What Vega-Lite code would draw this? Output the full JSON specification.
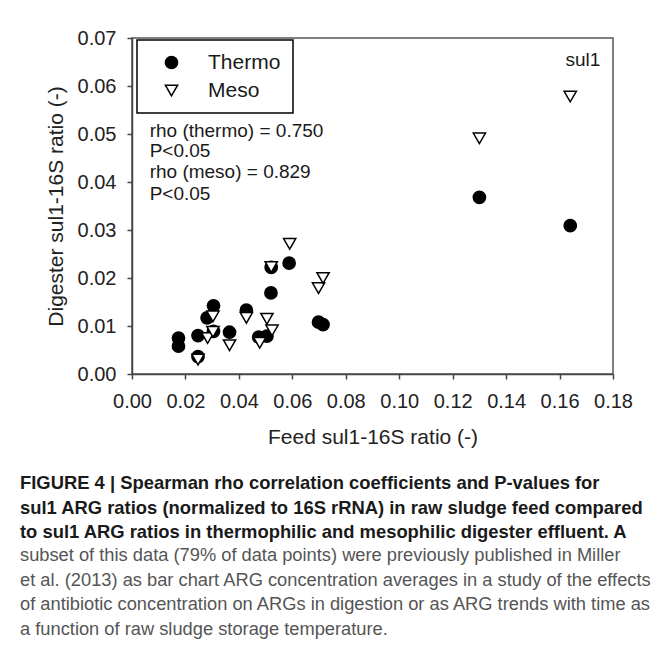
{
  "$schema": "https://vega.github.io/schema/vega-lite/v6.json",
  "autosize": {"type": "none"},
  "width": 481,
  "height": 336,
  "padding": {"left": 132, "top": 38, "right": 50, "bottom": 291},
  "background": "white",
  "title": {
    "text": [
      "FIGURE 4 | Spearman rho correlation coefficients and P-values for",
      "sul1 ARG ratios (normalized to 16S rRNA) in raw sludge feed compared",
      "to sul1 ARG ratios in thermophilic and mesophilic digester effluent. A"
    ],
    "subtitle": [
      "subset of this data (79% of data points) were previously published in Miller",
      "et al. (2013) as bar chart ARG concentration averages in a study of the effects",
      "of antibiotic concentration on ARGs in digestion or as ARG trends with time as",
      "a function of raw sludge storage temperature."
    ],
    "orient": "bottom",
    "anchor": "start",
    "frame": "group",
    "dx": -112,
    "offset": 27,
    "font": "Liberation Sans",
    "fontSize": 18.4,
    "fontWeight": "bold",
    "color": "#1a1a1a",
    "lineHeight": 24.5,
    "subtitleFont": "Liberation Sans",
    "subtitleFontSize": 18.3,
    "subtitleColor": "#555555",
    "subtitleLineHeight": 24.5,
    "subtitlePadding": 6
  },
  "config": {
    "view": {"stroke": "#555555", "strokeWidth": 1.5},
    "axis": {
      "grid": false,
      "domainColor": "#444444",
      "domainWidth": 1.5,
      "tickColor": "#444444",
      "tickWidth": 1.5,
      "tickSize": 5,
      "labelFont": "Liberation Sans",
      "labelFontSize": 20,
      "labelColor": "#222222",
      "titleFont": "Liberation Sans",
      "titleFontSize": 21,
      "titleFontWeight": "normal",
      "titleColor": "#222222"
    },
    "legend": {
      "strokeColor": "black",
      "strokeWidth": 1.5,
      "fillColor": "white",
      "symbolStrokeColor": "black",
      "symbolStrokeWidth": 1.5
    }
  },
  "layer": [
    {
      "data": {
        "values": [
          {"series": "Thermo", "feed": 0.0174, "digester": 0.0075},
          {"series": "Thermo", "feed": 0.0174, "digester": 0.0058},
          {"series": "Thermo", "feed": 0.0247, "digester": 0.0080},
          {"series": "Thermo", "feed": 0.0247, "digester": 0.0036},
          {"series": "Thermo", "feed": 0.0281, "digester": 0.0117},
          {"series": "Thermo", "feed": 0.0305, "digester": 0.0142},
          {"series": "Thermo", "feed": 0.0305, "digester": 0.0089},
          {"series": "Thermo", "feed": 0.0365, "digester": 0.0087},
          {"series": "Thermo", "feed": 0.0428, "digester": 0.0133},
          {"series": "Thermo", "feed": 0.0474, "digester": 0.0077},
          {"series": "Thermo", "feed": 0.0505, "digester": 0.0079},
          {"series": "Thermo", "feed": 0.0520, "digester": 0.0169},
          {"series": "Thermo", "feed": 0.0521, "digester": 0.0222},
          {"series": "Thermo", "feed": 0.0588, "digester": 0.0231},
          {"series": "Thermo", "feed": 0.0698, "digester": 0.0108},
          {"series": "Thermo", "feed": 0.0715, "digester": 0.0103},
          {"series": "Thermo", "feed": 0.1300, "digester": 0.0368},
          {"series": "Thermo", "feed": 0.1640, "digester": 0.0309},
          {"series": "Meso", "feed": 0.0247, "digester": 0.0030},
          {"series": "Meso", "feed": 0.0283, "digester": 0.0075},
          {"series": "Meso", "feed": 0.0303, "digester": 0.0120},
          {"series": "Meso", "feed": 0.0303, "digester": 0.0088},
          {"series": "Meso", "feed": 0.0365, "digester": 0.0060},
          {"series": "Meso", "feed": 0.0428, "digester": 0.0117},
          {"series": "Meso", "feed": 0.0478, "digester": 0.0065},
          {"series": "Meso", "feed": 0.0505, "digester": 0.0115},
          {"series": "Meso", "feed": 0.0524, "digester": 0.0091},
          {"series": "Meso", "feed": 0.0521, "digester": 0.0223},
          {"series": "Meso", "feed": 0.0590, "digester": 0.0271},
          {"series": "Meso", "feed": 0.0698, "digester": 0.0179},
          {"series": "Meso", "feed": 0.0715, "digester": 0.0200},
          {"series": "Meso", "feed": 0.1300, "digester": 0.0491},
          {"series": "Meso", "feed": 0.1640, "digester": 0.0578}
        ]
      },
      "mark": {"type": "point", "filled": true, "strokeWidth": 1.5, "size": 150, "opacity": 1},
      "encoding": {
        "x": {
          "field": "feed",
          "type": "quantitative",
          "title": "Feed sul1-16S ratio (-)",
          "scale": {"domain": [0, 0.18], "nice": false, "zero": false},
          "axis": {
            "values": [0, 0.02, 0.04, 0.06, 0.08, 0.10, 0.12, 0.14, 0.16, 0.18],
            "format": ".2f",
            "labelPadding": 12,
            "titlePadding": 15,
            "labelFlush": false
          }
        },
        "y": {
          "field": "digester",
          "type": "quantitative",
          "title": "Digester sul1-16S ratio (-)",
          "scale": {"domain": [0, 0.07], "nice": false, "zero": false},
          "axis": {
            "values": [0, 0.01, 0.02, 0.03, 0.04, 0.05, 0.06, 0.07],
            "format": ".2f",
            "labelPadding": 11,
            "titlePadding": 11,
            "labelFlush": false
          }
        },
        "fill": {
          "field": "series",
          "type": "nominal",
          "scale": {"domain": ["Thermo", "Meso"], "range": ["black", "white"]},
          "legend": {
            "title": null,
            "orient": "none",
            "legendX": 5,
            "legendY": 2,
            "padding": 12,
            "labelFont": "Liberation Sans",
            "labelFontSize": 21,
            "labelColor": "#1a1a1a",
            "symbolOffset": 12,
            "labelOffset": 26,
            "rowPadding": 6,
            "symbolSize": 150
          }
        },
        "stroke": {
          "field": "series",
          "type": "nominal",
          "scale": {"domain": ["Thermo", "Meso"], "range": ["black", "black"]},
          "legend": {
            "title": null,
            "orient": "none",
            "legendX": 5,
            "legendY": 2,
            "padding": 12,
            "labelFont": "Liberation Sans",
            "labelFontSize": 21,
            "labelColor": "#1a1a1a",
            "symbolOffset": 12,
            "labelOffset": 26,
            "rowPadding": 6,
            "symbolSize": 150
          }
        },
        "shape": {
          "field": "series",
          "type": "nominal",
          "scale": {"domain": ["Thermo", "Meso"], "range": ["circle", "triangle-down"]},
          "legend": {
            "title": null,
            "orient": "none",
            "legendX": 5,
            "legendY": 2,
            "padding": 12,
            "labelFont": "Liberation Sans",
            "labelFontSize": 21,
            "labelColor": "#1a1a1a",
            "symbolOffset": 12,
            "labelOffset": 26,
            "rowPadding": 6,
            "symbolSize": 150
          }
        }
      }
    },
    {
      "data": {
        "values": [
          {"label": "rho (thermo) = 0.750", "x": 0.0066, "y": 0.0507},
          {"label": "P<0.05", "x": 0.0066, "y": 0.0464},
          {"label": "rho (meso) = 0.829", "x": 0.0066, "y": 0.0420},
          {"label": "P<0.05", "x": 0.0066, "y": 0.0376},
          {"label": "sul1", "x": 0.1622, "y": 0.0654}
        ]
      },
      "mark": {"type": "text", "align": "left", "baseline": "middle", "font": "Liberation Sans", "fontSize": 19, "color": "#1a1a1a"},
      "encoding": {
        "x": {"field": "x", "type": "quantitative"},
        "y": {"field": "y", "type": "quantitative"},
        "text": {"field": "label"}
      }
    }
  ]
}
